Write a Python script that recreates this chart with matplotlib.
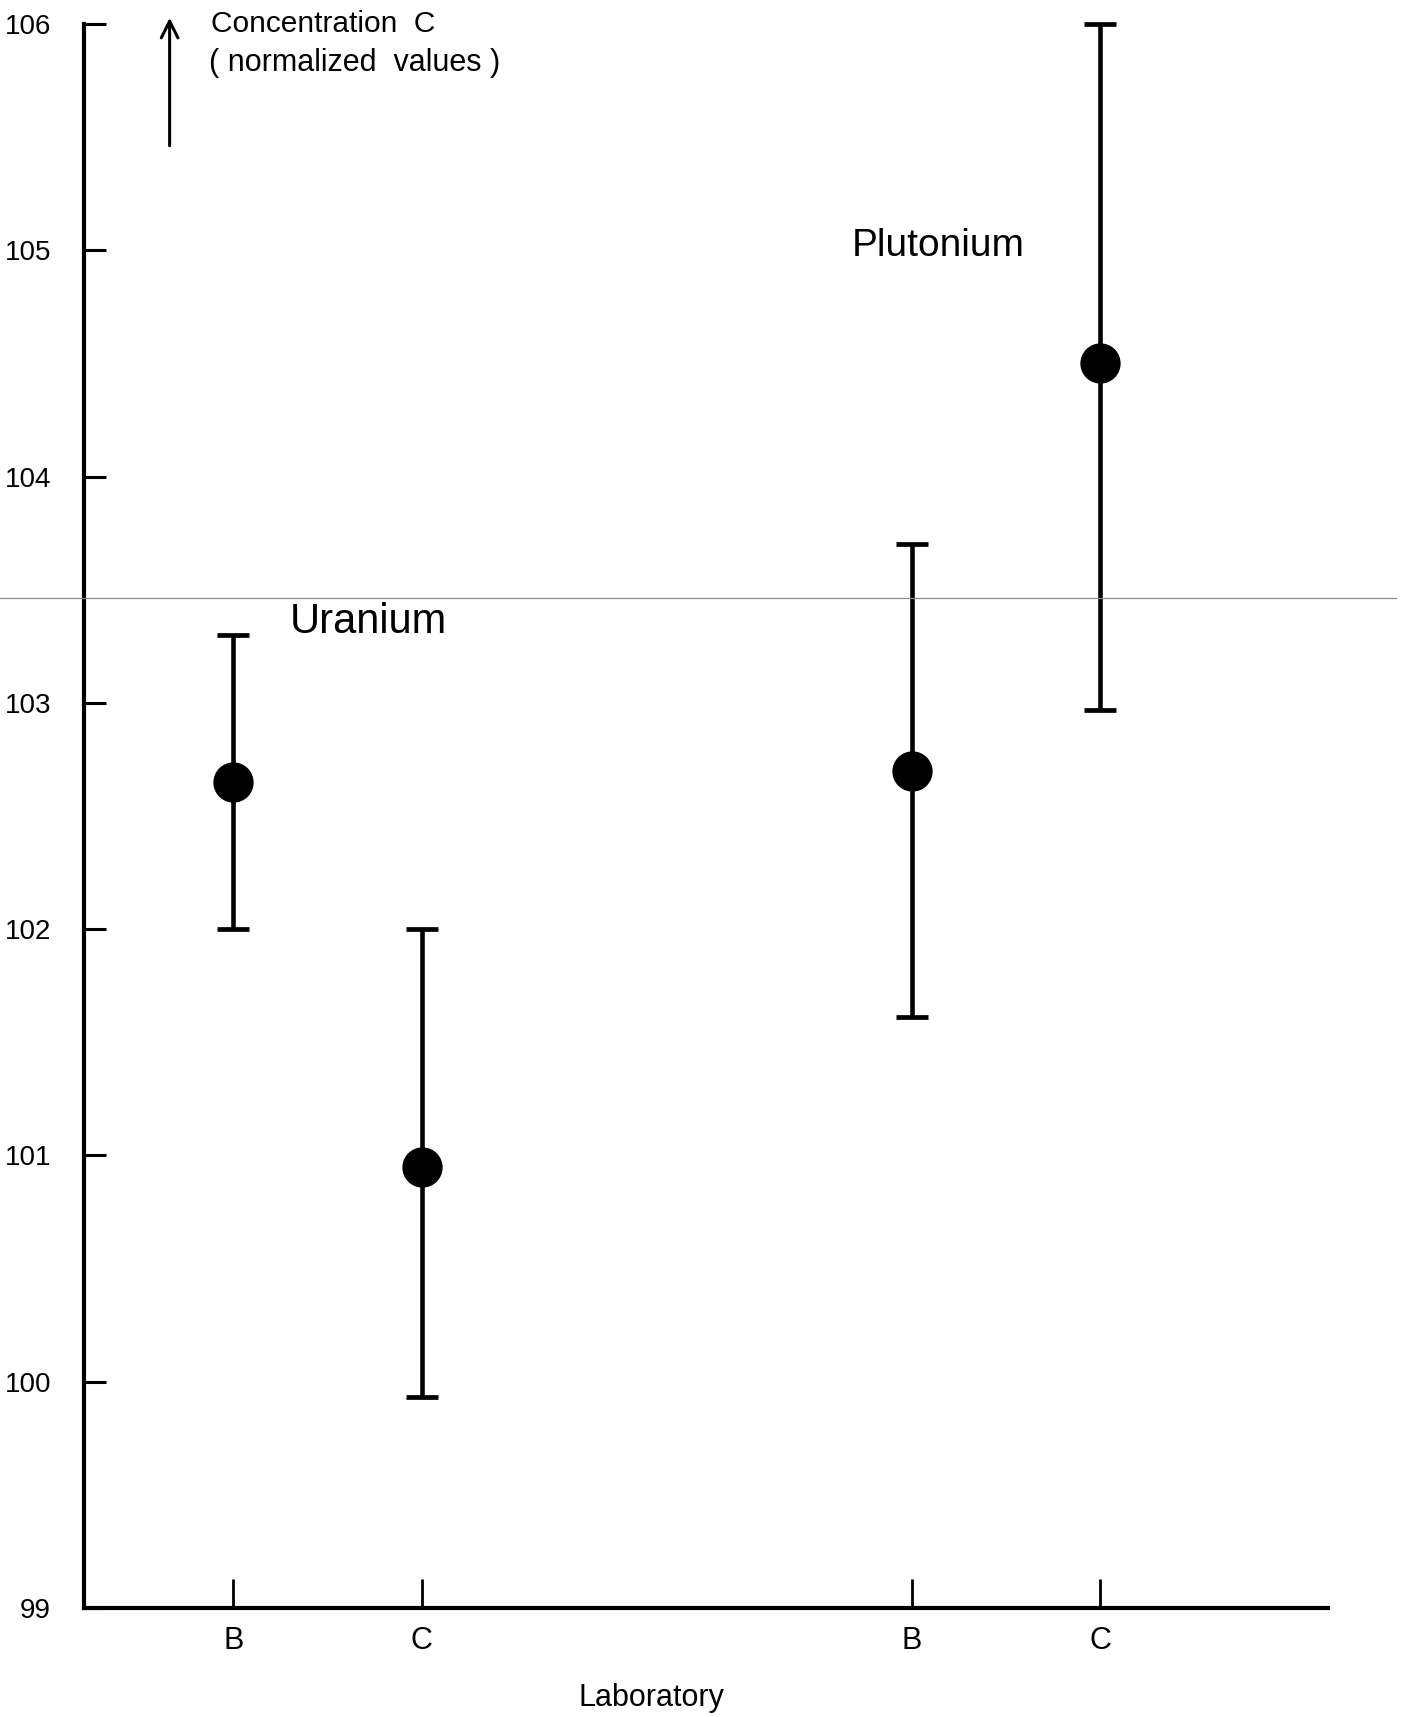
import numpy as np
import matplotlib.pyplot as plt
from matplotlib.lines import Line2D

plt.rcParams['font.family'] = ['Liberation Sans', 'DejaVu Sans']

# laboratory positions along x (Uranium B, C; Plutonium B, C)
labs = ["B", "C", "B", "C"]
x_pos = [1.0, 2.0, 4.6, 5.6]
# normalized concentrations with lower / upper error bounds
conc = [102.65, 100.95, 102.70, 104.50]
low = [102.00, 99.93, 101.61, 102.97]
high = [103.30, 102.00, 103.70, 106.00]
yticks = [99, 100, 101, 102, 103, 104, 105, 106]

conc = np.array(conc)
yerr = np.array([conc - np.array(low), np.array(high) - conc])

fig = plt.figure(figsize=(14.04, 17.17), dpi=100)
ax = fig.add_axes([0.060, 0.0636, 0.886, 0.9224])

ax.errorbar(x_pos, conc, yerr=yerr, fmt='o', color='k', markersize=28,
            elinewidth=3.3, capsize=11.5, capthick=3.4, clip_on=False, zorder=3)

ax.set_xlim(0.21, 6.81)
ax.set_ylim(99, 106)
ax.set_yticks(yticks)
ax.set_yticklabels([str(t) for t in yticks], fontsize=20)
ax.set_xticks(x_pos)
ax.set_xticklabels(labs, fontsize=22)
ax.tick_params(axis='y', direction='in', length=16, width=2.2, pad=24)
ax.tick_params(axis='x', direction='in', length=21, width=2.0, pad=13)

ax.spines['right'].set_visible(False)
ax.spines['top'].set_visible(False)
ax.spines['left'].set_linewidth(3)
ax.spines['bottom'].set_linewidth(3)

# labels
ax.text(4.28, 105.02, "Plutonium", fontsize=28, va='center', ha='left')
ax.text(1.30, 103.355, "Uranium", fontsize=30, va='center', ha='left')
ax.text(0.884, 106.0, "Concentration  C", fontsize=21.5, va='center', ha='left', clip_on=False)
ax.text(0.87, 105.83, "( normalized  values )", fontsize=22, va='center', ha='left', clip_on=False)
ax.annotate("", xy=(0.663, 106.04), xytext=(0.663, 105.45),
            arrowprops=dict(arrowstyle='->', color='k', lw=2.2, mutation_scale=30),
            annotation_clip=False)
ax.text(3.22, 98.60, "Laboratory", fontsize=22, va='center', ha='center', clip_on=False)

# thin scan line across the page
fig.add_artist(Line2D([0, 0.9945], [0.6517, 0.6517], color='#888888', lw=0.9))

fig.savefig("out.png", dpi=100, facecolor='white')
